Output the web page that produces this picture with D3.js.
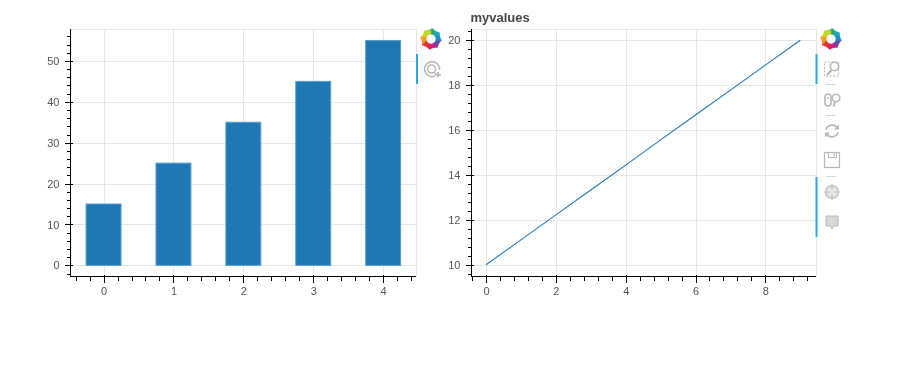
<!DOCTYPE html>
<html>
<head>
<meta charset="utf-8">
<script src="https://cdn.jsdelivr.net/npm/d3@7"></script>
<style>
body { margin: 0; background: #fff; }
text { font-family: "Liberation Sans", Arial, sans-serif; }
svg { will-change: transform; }
</style>
</head>
<body>
<div id="chart"></div>
<script>
// bar plot data
var barX = [0, 1, 2, 3, 4];
var barValues = [15, 25, 35, 45, 55];
var barXTicks = [0, 1, 2, 3, 4];
var barYTicks = [0, 10, 20, 30, 40, 50];

// line plot data
var lineX = [0, 1, 2, 3, 4, 5, 6, 7, 8, 9];
var lineValues = [10, 11.11, 12.22, 13.33, 14.44, 15.56, 16.67, 17.78, 18.89, 20];
var lineXTicks = [0, 2, 4, 6, 8];
var lineYTicks = [10, 12, 14, 16, 18, 20];
var lineTitle = "myvalues";

var svg = d3.select("#chart")
    .append("svg")
    .attr("width", 913)
    .attr("height", 369)
    .style("display", "block");

// grid, frame, axes with bokeh style ticks (2 in, 6 out, minor 4 out)
function drawFrame(frame, xScale, yScale, xTicks, yTicks, xMinorStep, yMinorStep) {
    var left = frame.left, right = frame.right, top = frame.top, bottom = frame.bottom;
    var grid = svg.append("g").attr("stroke", "#e5e5e5").attr("fill", "none").attr("shape-rendering", "crispEdges");

    grid.selectAll(".gx").data(xTicks).enter().append("line")
        .attr("x1", function(d) { return Math.round(xScale(d)) + 0.5; })
        .attr("x2", function(d) { return Math.round(xScale(d)) + 0.5; })
        .attr("y1", top).attr("y2", bottom);
    grid.selectAll(".gy").data(yTicks).enter().append("line")
        .attr("y1", function(d) { return Math.round(yScale(d)) + 0.5; })
        .attr("y2", function(d) { return Math.round(yScale(d)) + 0.5; })
        .attr("x1", left).attr("x2", right);
    grid.append("path").attr("d", "M" + left + "," + (top + 0.5) + "H" + (right + 0.5) + "V" + bottom);

    return function() {
        var xDom = xScale.domain(), yDom = yScale.domain();
        var xMinor = d3.range(Math.ceil(xDom[0] / xMinorStep), Math.floor(xDom[1] / xMinorStep) + 1)
            .map(function(k) { return k * xMinorStep; });
        var yMinor = d3.range(Math.ceil(yDom[0] / yMinorStep), Math.floor(yDom[1] / yMinorStep) + 1)
            .map(function(k) { return k * yMinorStep; });

        var xAxis = svg.append("g").attr("transform", "translate(0," + (bottom + 0.5) + ")").attr("shape-rendering", "crispEdges");
        xAxis.append("g").call(d3.axisBottom(xScale).tickValues(xMinor).tickSize(4).tickFormat(""));
        xAxis.append("g").call(d3.axisBottom(xScale).tickValues(xTicks).tickSize(6).tickPadding(5).tickFormat(d3.format("d")));
        var yAxis = svg.append("g").attr("transform", "translate(" + (left + 0.5) + ",0)").attr("shape-rendering", "crispEdges");
        yAxis.append("g").call(d3.axisLeft(yScale).tickValues(yMinor).tickSize(4).tickFormat(""));
        yAxis.append("g").call(d3.axisLeft(yScale).tickValues(yTicks).tickSize(6).tickPadding(5).tickFormat(d3.format("d")));

        // major ticks also reach 2px inside
        xAxis.selectAll("g").selectAll(".tick").filter(function(d) { return xTicks.indexOf(d) >= 0; })
            .select("line").attr("y1", -2);
        yAxis.selectAll("g").selectAll(".tick").filter(function(d) { return yTicks.indexOf(d) >= 0; })
            .select("line").attr("x1", 2);

        svg.selectAll(".domain").attr("stroke", "#000");
        xAxis.selectAll(".domain").attr("d", "M" + left + ",0H" + right);
        yAxis.selectAll(".domain").attr("d", "M0," + top + "V" + (bottom + 0.5));
        svg.selectAll(".tick text").attr("font-family", "'Liberation Sans', Arial, sans-serif").attr("font-size", 11).attr("fill", "#555");
    };
}

function barChart() {
    var frame = { left: 70, right: 416, top: 29, bottom: 276 };
    var xScale = d3.scaleLinear().domain([-0.48, 4.47]).range([frame.left, frame.right]);
    var yScale = d3.scaleLinear().domain([-2.6, 57.8]).range([frame.bottom, frame.top]);
    var axes = drawFrame(frame, xScale, yScale, barXTicks, barYTicks, 0.2, 2);

    svg.append("g").selectAll("rect")
        .data(barValues)
        .enter()
        .append("rect")
        .attr("x", function(d, i) { return xScale(barX[i] - 0.25); })
        .attr("y", function(d) { return yScale(d); })
        .attr("width", xScale(0.25) - xScale(-0.25))
        .attr("height", function(d) { return yScale(0) - yScale(d); })
        .attr("fill", "#1f77b4")
        .attr("stroke", "#5b9dcc")
        .attr("stroke-width", 1);
    axes();
}

function lineChart() {
    var frame = { left: 471, right: 816, top: 29, bottom: 276 };
    var xScale = d3.scaleLinear().domain([-0.43, 9.45]).range([frame.left, frame.right]);
    var yScale = d3.scaleLinear().domain([9.5, 20.5]).range([frame.bottom, frame.top]);
    var axes = drawFrame(frame, xScale, yScale, lineXTicks, lineYTicks, 0.4, 0.4);

    var line = d3.line()
        .x(function(d, i) { return xScale(lineX[i]); })
        .y(function(d) { return yScale(d); });
    svg.append("path")
        .datum(lineValues)
        .attr("d", line)
        .attr("fill", "none")
        .attr("stroke", "#1f77b4")
        .attr("stroke-width", 1.1);
    axes();

    svg.append("text").text(lineTitle)
        .attr("x", 470.5).attr("y", 22)
        .attr("font-size", 13).attr("font-weight", "bold").attr("fill", "#444");
}

// toolbar
var logoColors = ["#2ca25a", "#1aa8a8", "#1f8fd0", "#7b3fa0", "#e0187c", "#e5352b", "#f59a1d", "#c9d62b"];

function logo(cx, cy) {
    var g = svg.append("g").attr("transform", "translate(" + cx + "," + cy + ")");
    g.selectAll("path").data(logoColors).enter().append("path")
        .attr("d", "M-5,-7.5L1.5,-10.5L6,-6L4.2,-4L-1.7,-5.2Z")
        .attr("fill", function(d) { return d; })
        .attr("stroke", function(d) { return d; })
        .attr("stroke-width", 0.4)
        .attr("stroke-linejoin", "round")
        .attr("transform", function(d, i) { return "rotate(" + (i * 45) + ")"; });
}

function icon(cx, cy) {
    return svg.append("g").attr("transform", "translate(" + cx + "," + cy + ")")
        .attr("fill", "none").attr("stroke", "#b8b8b8").attr("stroke-width", 1.6);
}

function activeBar(x, y1, y2) {
    svg.append("rect").attr("x", x).attr("y", y1).attr("width", 2).attr("height", y2 - y1).attr("fill", "#26aae1");
}

function separator(cx, y) {
    svg.append("rect").attr("x", cx - 5).attr("y", y).attr("width", 10).attr("height", 1).attr("fill", "#d5d5d5");
}

function wheelPlus(cx, cy) {
    var g = icon(cx, cy);
    g.append("path").attr("d", "M3,7A7.5,7.5,0,1,1,7.5,1");
    g.append("circle").attr("cx", -0.5).attr("cy", 0).attr("r", 4);
    g.append("path").attr("d", "M2.5,3.5L4,5");
    g.append("path").attr("d", "M6,3V8.5M3.2,5.8H8.8").attr("stroke-width", 1.8);
}

function boxZoom(cx, cy) {
    var g = icon(cx, cy);
    g.append("rect").attr("x", -7.5).attr("y", -7).attr("width", 14).attr("height", 14)
        .attr("stroke-dasharray", "2 1.5").attr("stroke-width", 1);
    g.append("circle").attr("cx", 2.5).attr("cy", -2.5).attr("r", 4.2).attr("fill", "#fff");
    g.append("path").attr("d", "M-0.5,1L-5,6").attr("stroke-width", 2.2);
}

function wheelZoom(cx, cy) {
    var g = icon(cx, cy);
    g.append("rect").attr("x", -7).attr("y", -6).attr("width", 6).attr("height", 12).attr("rx", 3);
    g.append("path").attr("d", "M-4,-3V-1");
    g.append("circle").attr("cx", 4).attr("cy", -2).attr("r", 3.8);
    g.append("path").attr("d", "M3,2L1.5,6.5").attr("stroke-width", 2);
}

function refresh(cx, cy) {
    var g = icon(cx, cy);
    g.append("path").attr("d", "M-6,-1.5A6.5,6.5,0,0,1,5.5,-3").attr("stroke-width", 1.8);
    g.append("path").attr("d", "M6,1.5A6.5,6.5,0,0,1,-5.5,3").attr("stroke-width", 1.8);
    g.append("path").attr("d", "M7,-6.5V-1.5H2").attr("fill", "#b8b8b8").attr("stroke", "none");
    g.append("path").attr("d", "M-7,6.5V1.5H-2").attr("fill", "#b8b8b8").attr("stroke", "none");
}

function save(cx, cy) {
    var g = icon(cx, cy);
    g.append("rect").attr("x", -7.5).attr("y", -7.5).attr("width", 15).attr("height", 15).attr("stroke-width", 1.2);
    g.append("rect").attr("x", -3.5).attr("y", -7.5).attr("width", 8).attr("height", 5).attr("stroke-width", 1);
    g.append("rect").attr("x", 1.5).attr("y", -6.5).attr("width", 1.5).attr("height", 2.5).attr("fill", "#b8b8b8").attr("stroke", "none");
}

function crosshair(cx, cy) {
    var g = icon(cx, cy);
    g.append("circle").attr("r", 6.5).attr("fill", "#e6e6e6").attr("stroke-width", 1.2);
    g.append("path").attr("d", "M0,-7.5V-3M0,3V7.5M-7.5,0H-3M3,0H7.5").attr("stroke-width", 1.2);
}

function hover(cx, cy) {
    var g = icon(cx, cy);
    g.append("path").attr("d", "M-6,-6H6V4H2L0,7L-2,4H-6Z").attr("fill", "#d8d8d8").attr("stroke-width", 1);
}

barChart();
lineChart();

logo(431, 39);
activeBar(416, 54, 84);
wheelPlus(432, 69);

logo(831, 39);
activeBar(815.5, 54, 84);
boxZoom(832, 69);
separator(831, 84);
wheelZoom(832, 100);
separator(831, 115);
refresh(832, 131);
save(832, 160);
separator(831, 176);
activeBar(815.5, 177, 237);
crosshair(832, 192);
hover(832, 222);
</script>
</body>
</html>
